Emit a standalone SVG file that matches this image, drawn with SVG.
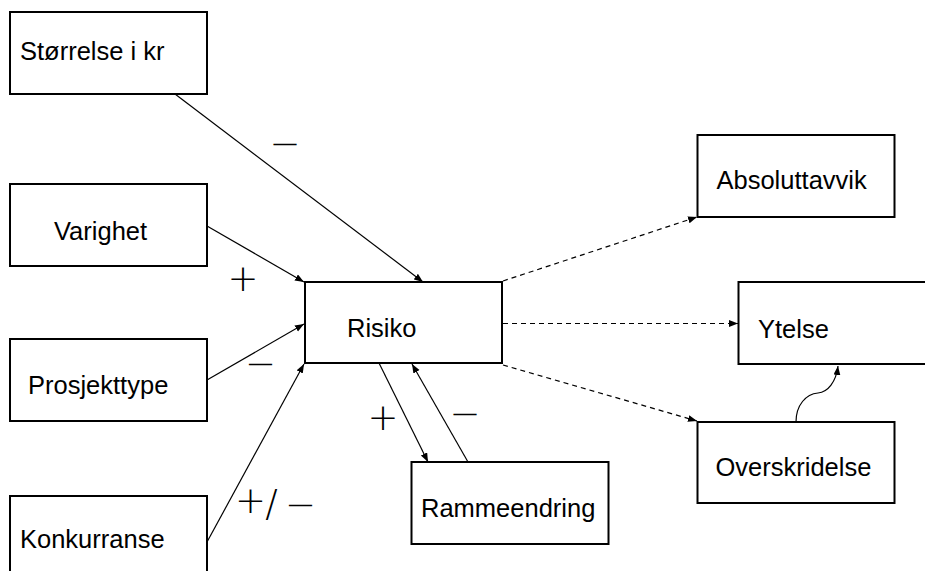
<svg xmlns="http://www.w3.org/2000/svg" width="925" height="571" viewBox="0 0 925 571">
<defs>
<style>
.box{fill:#fff;stroke:#000;stroke-width:2}
.lbl{font-family:"Liberation Sans",Arial,sans-serif;font-size:25.5px;fill:#000}
.con{fill:none;stroke:#000;stroke-width:1.2}
.dash{stroke-dasharray:5 4}
.sign{font-family:"DejaVu Sans",sans-serif;font-weight:200;font-size:37px;fill:#000;text-anchor:middle}
</style>
<marker id="ah" markerUnits="userSpaceOnUse" markerWidth="10" markerHeight="8" refX="9" refY="3.5" orient="auto">
<path d="M0,0 L9,3.5 L0,7 z" fill="#000"/>
</marker>
</defs>
<rect width="925" height="571" fill="#fff"/>
<g id="connectors">
<path class="con" d="M175,94 L423,282" marker-end="url(#ah)"/>
<path class="con" d="M207,226 L304,282" marker-end="url(#ah)"/>
<path class="con" d="M207,380 L304,324" marker-end="url(#ah)"/>
<path class="con" d="M207,542 L304,364" marker-end="url(#ah)"/>
<path class="con" d="M379,363 L428,462" marker-end="url(#ah)"/>
<path class="con" d="M468,462 L412,364" marker-end="url(#ah)"/>
<path class="con dash" d="M503,281 L697,217" marker-end="url(#ah)"/>
<path class="con dash" d="M503,323.5 L738,323.5" marker-end="url(#ah)"/>
<path class="con dash" d="M503,365 L697,421" marker-end="url(#ah)"/>
<path class="con" d="M796,422 C796,405 806,394 818,393 C828,392 836,382 838,366" marker-end="url(#ah)"/>
<text class="sign" x="285" y="156">−</text>
<text class="sign" x="243" y="291">+</text>
<text class="sign" x="260.5" y="376">−</text>
<text class="sign" x="250.5" y="513">+</text>
<text class="sign" x="271.5" y="516">/</text>
<text class="sign" x="300.5" y="517">−</text>
<text class="sign" x="383" y="430">+</text>
<text class="sign" x="465" y="425.7">−</text>
</g>
<g id="storrelse"><rect class="box" x="10" y="12" width="197" height="82"/><text class="lbl" x="20" y="60">Størrelse i kr</text></g>
<g id="varighet"><rect class="box" x="10" y="184" width="197" height="82"/><text class="lbl" x="54" y="240">Varighet</text></g>
<g id="prosjekttype"><rect class="box" x="10" y="339" width="197" height="82"/><text class="lbl" x="28" y="394">Prosjekttype</text></g>
<g id="konkurranse"><rect class="box" x="10" y="496" width="197" height="90"/><text class="lbl" x="20" y="548">Konkurranse</text></g>
<g id="risiko"><rect class="box" x="305" y="282" width="197" height="81"/><text class="lbl" x="347" y="337">Risiko</text></g>
<g id="rammeendring"><rect class="box" x="411.5" y="462" width="197" height="82"/><text class="lbl" x="421" y="517">Rammeendring</text></g>
<g id="absoluttavvik"><rect class="box" x="697.5" y="135" width="197" height="82"/><text class="lbl" x="716.5" y="189">Absoluttavvik</text></g>
<g id="ytelse"><rect class="box" x="738.5" y="282" width="197" height="82"/><text class="lbl" x="758" y="338">Ytelse</text></g>
<g id="overskridelse"><rect class="box" x="697.5" y="422" width="197" height="81"/><text class="lbl" x="715.5" y="476">Overskridelse</text></g>
</svg>
